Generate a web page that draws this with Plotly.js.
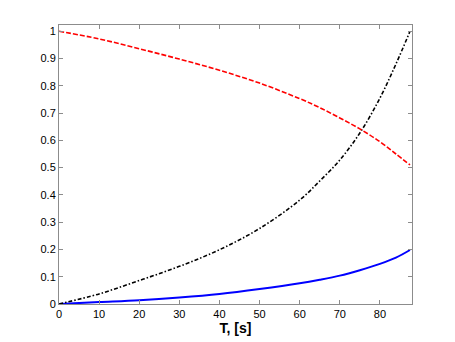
<!DOCTYPE html>
<html>
<head>
<meta charset="utf-8">
<script src="https://cdn.plot.ly/plotly-3.0.1.min.js"></script>
<style>
  html, body { margin: 0; padding: 0; background: #fff; }
  #plot { width: 455px; height: 342px; }
</style>
</head>
<body>
<div id="plot"></div>
<script>
// time points, s
const tValues = [0, 10, 20, 30, 40, 50, 60, 65, 70, 75, 80, 84, 87.5];
// red dashed curve
const redValues = [1.0, 0.972, 0.936, 0.898, 0.857, 0.81, 0.753, 0.72, 0.682, 0.642, 0.595, 0.55, 0.51];
// black dash-dot curve
const blackValues = [0, 0.037, 0.086, 0.138, 0.199, 0.277, 0.381, 0.451, 0.528, 0.627, 0.755, 0.88, 1.0];
// blue solid curve
const blueValues = [0, 0.007, 0.014, 0.024, 0.037, 0.055, 0.076, 0.089, 0.104, 0.124, 0.147, 0.17, 0.198];

const xTicks = [0, 10, 20, 30, 40, 50, 60, 70, 80];
const yTicks = [0, 0.1, 0.2, 0.3, 0.4, 0.5, 0.6, 0.7, 0.8, 0.9, 1];
const yTickLabels = ['0', '0.1', '0.2', '0.3', '0.4', '0.5', '0.6', '0.7', '0.8', '0.9', '1'];

function makeTrace(y, color, width, dash) {
    return {
        x: tValues,
        y: y,
        type: 'scatter',
        mode: 'lines',
        line: { color: color, width: width, dash: dash, shape: 'spline', smoothing: 1 },
        hoverinfo: 'skip'
    };
}

const traces = [
    makeTrace(blueValues, '#0000ff', 2, 'solid'),
    makeTrace(blackValues, '#000000', 1.6, '4px,2px,1.5px,2px'),
    makeTrace(redValues, '#ff0000', 1.6, '5px,2px')
];

const axisCommon = {
    showline: true,
    mirror: 'ticks',
    linecolor: '#8c8c8c',
    linewidth: 1,
    ticks: 'inside',
    ticklen: 4,
    tickcolor: '#8c8c8c',
    showgrid: false,
    zeroline: false,
    tickfont: { family: 'Liberation Sans, Arial, sans-serif', size: 11, color: '#000' }
};

const layout = {
    width: 455,
    height: 342,
    margin: { l: 59, r: 43, t: 25, b: 38 },
    paper_bgcolor: '#fff',
    plot_bgcolor: '#fff',
    showlegend: false,
    xaxis: Object.assign({}, axisCommon, {
        range: [0, 88],
        tickvals: xTicks,
        title: {
            text: '<b>T, [s]</b>',
            standoff: 1,
            font: { family: 'Liberation Sans, Arial, sans-serif', size: 14, color: '#000' }
        }
    }),
    yaxis: Object.assign({}, axisCommon, {
        range: [0, 1.023],
        tickvals: yTicks,
        ticktext: yTickLabels
    })
};

Plotly.newPlot('plot', traces, layout, { staticPlot: true, displayModeBar: false });
</script>
</body>
</html>
